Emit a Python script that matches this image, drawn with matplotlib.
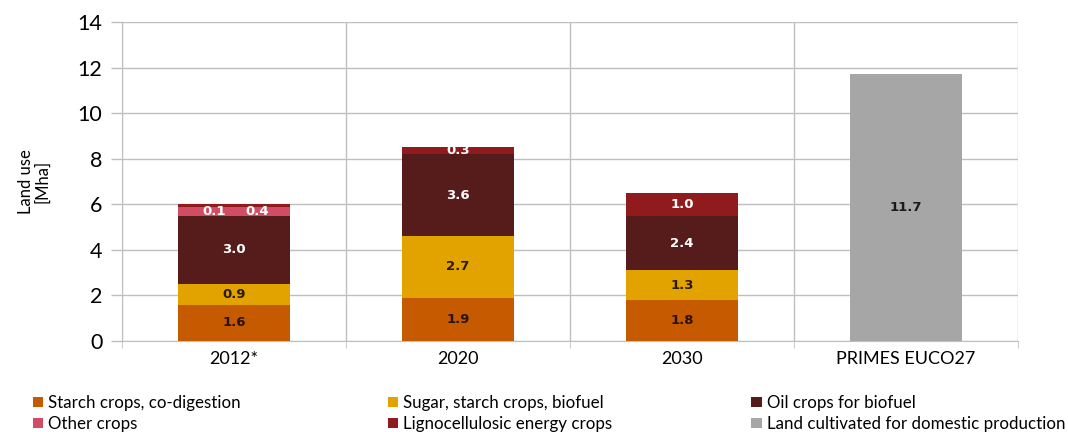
import matplotlib
matplotlib.use('Agg')
import matplotlib.pyplot as plt
import numpy as np

plt.rcParams['font.family'] = ['Lato', 'DejaVu Sans']

# data (Mha)
categories = ['2012*', '2020', '2030', 'PRIMES EUCO27']
starch = [1.6, 1.9, 1.8, 0]
sugar = [0.9, 2.7, 1.3, 0]
oil = [3.0, 3.6, 2.4, 0]
other = [0.4, 0, 0, 0]
ligno = [0.1, 0.3, 1.0, 0]
land = [0, 0, 0, 11.7]

series = [
    ('Starch crops, co-digestion', starch, '#C55A00', '#2a1200'),
    ('Sugar, starch crops, biofuel', sugar, '#E2A300', '#2a1a00'),
    ('Oil crops for biofuel', oil, '#561C1C', 'white'),
    ('Other crops', other, '#D14D66', 'white'),
    ('Lignocellulosic energy crops', ligno, '#901B1D', 'white'),
    ('Land cultivated for domestic production', land, '#A6A6A6', '#1a1a1a'),
]

fig = plt.figure(figsize=(10.68, 4.32), dpi=100)
ax = fig.add_axes([0.1142, 0.2106, 0.8390, 0.7384])

x = np.arange(len(categories))
bottom = np.zeros(len(categories))
handles = {}
for name, vals, col, tcol in series:
    vals = np.array(vals, dtype=float)
    b = ax.bar(x, vals, 0.5, bottom=bottom, color=col, label=name, zorder=3)
    handles[name] = b
    for i, v in enumerate(vals):
        if v <= 0:
            continue
        yc = bottom[i] + v / 2
        xc = x[i]
        # 2012: the two thin top bands share one row of labels
        if name == 'Other crops' and i == 0:
            xc = x[i] + 0.105
        if name == 'Lignocellulosic energy crops' and i == 0:
            xc = x[i] - 0.09
            yc = bottom[i] - other[i] / 2
        ax.text(xc, yc, '%.1f' % v, ha='center', va='center', color=tcol,
                fontsize=9.5, fontweight='bold', family='DejaVu Sans', zorder=4)
    bottom += vals

ax.set_xlim(-0.5, len(categories) - 0.5)
ax.set_ylim(0, 14)
ax.set_yticks(range(0, 15, 2))
ax.set_xticks(x)
ax.set_xticklabels(categories, fontsize=13)
ax.tick_params(axis='y', labelsize=15.5, length=8, color='#BFBFBF', width=1, pad=6)
ax.tick_params(axis='x', length=0, pad=7)
ax.set_xticks(np.arange(-0.5, len(categories)), minor=True)
ax.tick_params(axis='x', which='minor', length=5, color='#BFBFBF')

ax.grid(axis='y', color='#BFBFBF', lw=1, zorder=0)
ax.grid(axis='x', which='minor', color='#BFBFBF', lw=1, zorder=0)
for s in ['top', 'right']:
    ax.spines[s].set_visible(False)
ax.spines['left'].set_color('#BFBFBF')
ax.spines['bottom'].set_color('#BFBFBF')

ax.set_ylabel('Land use\n[Mha]', fontsize=12, labelpad=20, linespacing=1.0)

# legend: three columns of two rows
columns = [
    ['Starch crops, co-digestion', 'Other crops'],
    ['Sugar, starch crops, biofuel', 'Lignocellulosic energy crops'],
    ['Oil crops for biofuel', 'Land cultivated for domestic production'],
]
col_x = [0.031, 0.3635, 0.7035]
for cx, names in zip(col_x, columns):
    fig.legend([handles[n] for n in names], names, loc='center left',
               bbox_to_anchor=(cx, 0.043), frameon=False, fontsize=12.2,
               handlelength=0.6, handleheight=0.6, handletextpad=0.3,
               labelspacing=0.3, borderpad=0, borderaxespad=0)

fig.savefig('out.png', dpi=100)
